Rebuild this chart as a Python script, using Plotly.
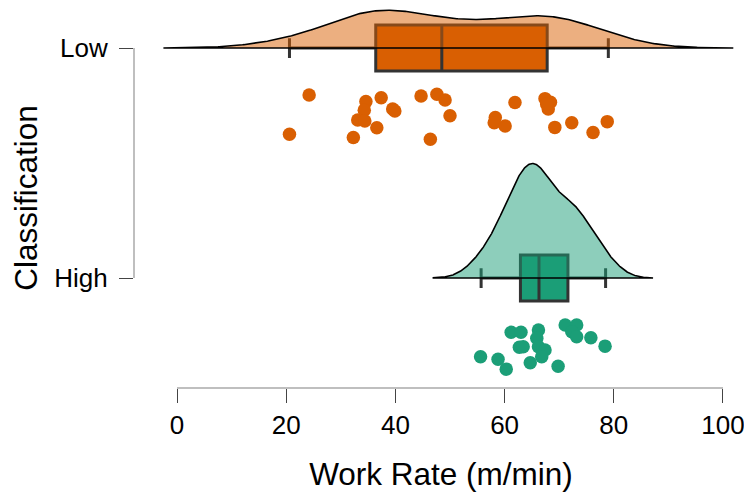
import numpy as np
import plotly.graph_objects as go

# ---- data ----
categories = ["Low", "High"]
colors = ["#D95F02", "#1B9E77"]
fill_colors = ["rgba(217,95,2,0.5)", "rgba(27,158,119,0.5)"]

low_values = [24.2, 20.6, 34.6, 34.3, 37.4, 33.1, 34.4, 32.3, 36.6, 39.5,
              39.9, 44.7, 47.6, 49.1, 50.0, 46.4, 58.3, 58.1, 60.1, 61.9,
              67.4, 68.4, 68.0, 67.7, 69.2, 72.3, 76.2, 78.8]
low_jitter = [0.204, 0.375, 0.233, 0.270, 0.216, 0.313, 0.317, 0.389, 0.347, 0.265,
              0.274, 0.209, 0.201, 0.226, 0.294, 0.397, 0.302, 0.325, 0.339, 0.237,
              0.220, 0.236, 0.265, 0.243, 0.345, 0.325, 0.367, 0.320]

high_values = [55.6, 58.8, 60.3, 61.2, 63.0, 62.7, 63.4, 66.2, 65.9, 66.2,
               67.4, 66.8, 64.7, 71.1, 73.2, 72.3, 73.2, 75.8, 78.4, 69.8]
high_jitter = [0.342, 0.353, 0.396, 0.236, 0.236, 0.301, 0.299, 0.226, 0.262, 0.299,
               0.313, 0.342, 0.368, 0.204, 0.204, 0.233, 0.255, 0.260, 0.296, 0.383]

box_q1 = [36.4, 62.9]
box_median = [48.5, 66.3]
box_q3 = [67.8, 71.6]
box_lower = [20.6, 55.7]
box_upper = [79.0, 78.5]

x_ticks = [0, 20, 40, 60, 80, 100]

values = [low_values, high_values]
jitters = [low_jitter, high_jitter]
positions = [1, 0]  # Low on top, High below


def nrd0(x):
    x = np.asarray(x, float)
    sd = x.std(ddof=1)
    iqr = np.subtract(*np.percentile(x, [75, 25]))
    lo = min(sd, iqr / 1.34)
    return 0.9 * lo * len(x) ** (-0.2)


def kde(x, bw, n=512, cut=3):
    x = np.asarray(x, float)
    grid = np.linspace(x.min() - cut * bw, x.max() + cut * bw, n)
    d = np.exp(-0.5 * ((grid[:, None] - x[None, :]) / bw) ** 2).sum(1)
    d /= (len(x) * bw * np.sqrt(2 * np.pi))
    return grid, d


dens = []
for v in values:
    dens.append(kde(v, nrd0(v)))
max_d = max(d.max() for _, d in dens)
height = 0.498  # tallest cloud height in category units
scale = height / max_d

fig = go.Figure()

for i in range(2):
    g, d = dens[i]
    base = positions[i]
    fig.add_trace(go.Scatter(
        x=np.concatenate([g, g[::-1]]),
        y=np.concatenate([base + d * scale, np.full(len(g), base)]),
        mode="lines", fill="toself", fillcolor=fill_colors[i],
        line=dict(color="black", width=1.6),
        hoverinfo="skip", showlegend=False))

for i in range(2):
    fig.add_trace(go.Box(
        orientation="h", y=[positions[i]],
        q1=[box_q1[i]], median=[box_median[i]], q3=[box_q3[i]],
        lowerfence=[box_lower[i]], upperfence=[box_upper[i]],
        width=0.2, whiskerwidth=0.43,
        fillcolor=colors[i], line=dict(color="#333333", width=3),
        boxpoints=False, hoverinfo="skip", showlegend=False))

for i in range(2):
    fig.add_trace(go.Scatter(
        x=values[i],
        y=[positions[i] - j for j in jitters[i]],
        mode="markers",
        marker=dict(color=colors[i], size=13.5, line=dict(width=0)),
        hoverinfo="skip", showlegend=False))

font = "Liberation Sans, Arial, Helvetica, sans-serif"

fig.update_layout(
    width=744, height=492,
    margin=dict(l=126, r=4, t=0, b=112, autoexpand=False),
    paper_bgcolor="white", plot_bgcolor="white",
    font=dict(family=font, color="black"),
    boxmode="overlay",
    xaxis=dict(range=[-7.875, 104.58], tickvals=x_ticks,
               ticktext=[str(t) for t in x_ticks],
               showgrid=False, zeroline=False, showline=False, automargin=False,
               ticks="outside", ticklen=14, tickwidth=1.3, tickcolor="#444444",
               tickfont=dict(size=26),
               title=dict(text="Work Rate (m/min)", font=dict(size=31.5), standoff=23)),
    yaxis=dict(range=[-0.478, 1.174], tickvals=positions, ticktext=categories,
               showgrid=False, zeroline=False, showline=False, automargin=False,
               ticks="outside", ticklen=14, tickwidth=1.3, tickcolor="#444444",
               ticklabelstandoff=6,
               tickfont=dict(size=26),
               title=dict(text="Classification", font=dict(size=31.5), standoff=19)),
    shapes=[
        dict(type="line", xref="paper", yref="y", x0=0, x1=0, y0=0, y1=1,
             line=dict(color="#aaaaaa", width=1.5)),
        dict(type="line", xref="x", yref="paper", x0=0, x1=100, y0=0, y1=0,
             line=dict(color="#aaaaaa", width=1.5)),
    ],
)

fig.write_html("out.html")
